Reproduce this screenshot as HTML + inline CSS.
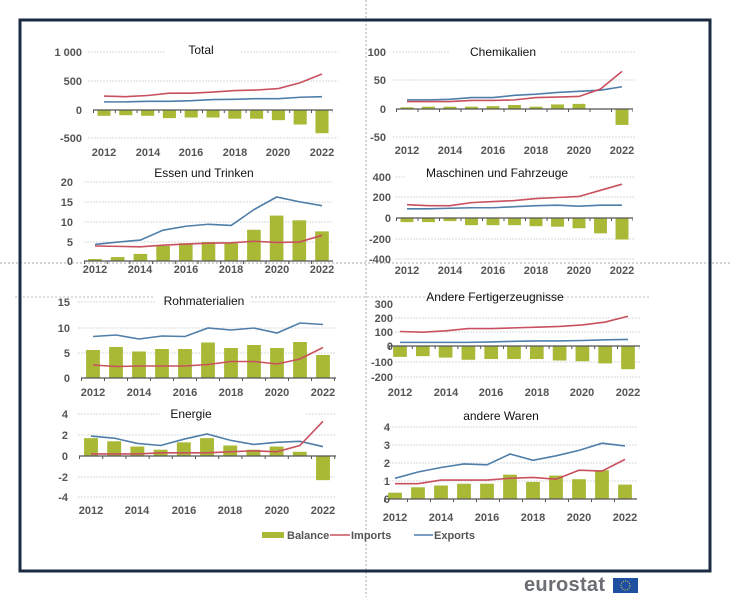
<!DOCTYPE html>
<html><head><meta charset="utf-8"><style>
html,body{margin:0;padding:0;background:#fff;}
svg{display:block;font-family:"Liberation Sans",Arial,sans-serif;}
svg *{vector-effect:non-scaling-stroke;}
.b{fill:#a9b936;}
.im{fill:none;stroke:#c9505f;stroke-width:1.6;}
.ex{fill:none;stroke:#4f7ea8;stroke-width:1.6;}
.g{stroke:#d4d8dd;stroke-width:1;stroke-dasharray:2 1;}
.ax{stroke:#555;stroke-width:1.2;}
.tk{stroke:#555;stroke-width:3;}
.yl{font-size:11px;font-weight:bold;fill:#555;text-anchor:end;}
.xl{font-size:11px;font-weight:bold;fill:#555;text-anchor:middle;}
.t{font-size:12px;fill:#111;text-anchor:middle;}
.bg{fill:#fff;}
</style></head><body>
<svg width="732" height="597" viewBox="0 0 732 597">
<!-- dotted guides -->
<line x1="366" y1="0" x2="366" y2="597" stroke="#aaa" stroke-dasharray="2 2"/>
<line x1="0" y1="263" x2="732" y2="263" stroke="#aaa" stroke-dasharray="2 2"/>
<line x1="15" y1="297" x2="650" y2="297" stroke="#bbb" stroke-dasharray="2 2"/>
<!-- frame -->
<rect x="20" y="20" width="690" height="551" fill="none" stroke="#1b2b42" stroke-width="3"/>

<!-- TOTAL -->
<line class="g" x1="88" y1="52" x2="338" y2="52"/><line class="g" x1="88" y1="81" x2="338" y2="81"/><line class="g" x1="88" y1="138" x2="338" y2="138"/>
<rect class="bg" x="165" y="42" width="75" height="16"/>
<text class="t" x="201" y="54">Total</text>
<text class="yl" x="82" y="56">1 000</text><text class="yl" x="82" y="85">500</text><text class="yl" x="82" y="114">0</text><text class="yl" x="82" y="142">-500</text>
<g transform="translate(104,110) scale(21.8,-0.058)">
<rect class="b" x="-0.3" y="-100" width="0.6" height="100"/><rect class="b" x="0.7" y="-90" width="0.6" height="90"/><rect class="b" x="1.7" y="-100" width="0.6" height="100"/><rect class="b" x="2.7" y="-140" width="0.6" height="140"/><rect class="b" x="3.7" y="-130" width="0.6" height="130"/><rect class="b" x="4.7" y="-130" width="0.6" height="130"/><rect class="b" x="5.7" y="-150" width="0.6" height="150"/><rect class="b" x="6.7" y="-150" width="0.6" height="150"/><rect class="b" x="7.7" y="-175" width="0.6" height="175"/><rect class="b" x="8.7" y="-250" width="0.6" height="250"/><rect class="b" x="9.7" y="-400" width="0.6" height="400"/>
<polyline class="ex" points="0,140 1,140 2,150 3,150 4,160 5,180 6,185 7,195 8,195 9,220 10,230"/>
<polyline class="im" points="0,240 1,230 2,250 3,290 4,290 5,310 6,335 7,345 8,370 9,470 10,620"/>
</g>
<line class="ax" x1="93" y1="110" x2="333" y2="110"/><line class="tk" x1="93" y1="111.5" x2="333" y2="111.5" stroke-dasharray="1 20.8"/>
<text class="xl" x="104" y="156">2012</text><text class="xl" x="148" y="156">2014</text><text class="xl" x="191" y="156">2016</text><text class="xl" x="235" y="156">2018</text><text class="xl" x="278" y="156">2020</text><text class="xl" x="322" y="156">2022</text>

<!-- ESSEN -->
<line class="g" x1="84" y1="182" x2="332" y2="182"/><line class="g" x1="84" y1="202" x2="332" y2="202"/><line class="g" x1="84" y1="222" x2="332" y2="222"/><line class="g" x1="84" y1="242" x2="332" y2="242"/>
<rect class="bg" x="132" y="165" width="145" height="16"/>
<text class="t" x="204" y="177">Essen und Trinken</text>
<text class="yl" x="73" y="186">20</text><text class="yl" x="73" y="206">15</text><text class="yl" x="73" y="226">10</text><text class="yl" x="73" y="246">5</text><text class="yl" x="73" y="265">0</text>
<g transform="translate(95,261) scale(22.7,-3.95)">
<rect class="b" x="-0.3" y="0" width="0.6" height="0.5"/><rect class="b" x="0.7" y="0" width="0.6" height="1"/><rect class="b" x="1.7" y="0" width="0.6" height="1.8"/><rect class="b" x="2.7" y="0" width="0.6" height="3.8"/><rect class="b" x="3.7" y="0" width="0.6" height="4.5"/><rect class="b" x="4.7" y="0" width="0.6" height="4.8"/><rect class="b" x="5.7" y="0" width="0.6" height="4.5"/><rect class="b" x="6.7" y="0" width="0.6" height="7.9"/><rect class="b" x="7.7" y="0" width="0.6" height="11.5"/><rect class="b" x="8.7" y="0" width="0.6" height="10.3"/><rect class="b" x="9.7" y="0" width="0.6" height="7.5"/>
<polyline class="ex" points="0,4.2 1,4.8 2,5.3 3,7.8 4,8.8 5,9.3 6,9 7,13 8,16.2 9,15 10,14"/>
<polyline class="im" points="0,3.8 1,3.7 2,3.6 3,4 4,4.3 5,4.5 6,4.6 7,5 8,4.7 9,4.8 10,6.5"/>
</g>
<line class="ax" x1="84" y1="261" x2="333" y2="261"/><line class="tk" x1="84" y1="262.5" x2="333" y2="262.5" stroke-dasharray="1 21.7"/>
<text class="xl" x="95" y="273">2012</text><text class="xl" x="140" y="273">2014</text><text class="xl" x="186" y="273">2016</text><text class="xl" x="231" y="273">2018</text><text class="xl" x="277" y="273">2020</text><text class="xl" x="322" y="273">2022</text>

<!-- CHEMIKALIEN -->
<line class="g" x1="393" y1="52" x2="635" y2="52"/><line class="g" x1="393" y1="80" x2="635" y2="80"/><line class="g" x1="393" y1="137" x2="635" y2="137"/>
<rect class="bg" x="450" y="42" width="110" height="16"/>
<text class="t" x="503" y="56">Chemikalien</text>
<text class="yl" x="386" y="56">100</text><text class="yl" x="386" y="84">50</text><text class="yl" x="386" y="113">0</text><text class="yl" x="386" y="141">-50</text>
<g transform="translate(407,109) scale(21.5,-0.57)">
<rect class="b" x="-0.3" y="0" width="0.6" height="3"/><rect class="b" x="0.7" y="0" width="0.6" height="4"/><rect class="b" x="1.7" y="0" width="0.6" height="4"/><rect class="b" x="2.7" y="0" width="0.6" height="4"/><rect class="b" x="3.7" y="0" width="0.6" height="5"/><rect class="b" x="4.7" y="0" width="0.6" height="7"/><rect class="b" x="5.7" y="0" width="0.6" height="4"/><rect class="b" x="6.7" y="0" width="0.6" height="8"/><rect class="b" x="7.7" y="0" width="0.6" height="9"/><rect class="b" x="8.7" y="-1" width="0.6" height="1"/><rect class="b" x="9.7" y="-28" width="0.6" height="28"/>
<polyline class="ex" points="0,16 1,16 2,17 3,20 4,20 5,24 6,26 7,29 8,31 9,33 10,39"/>
<polyline class="im" points="0,13 1,13 2,13 3,15 4,15 5,16 6,20 7,21 8,22 9,35 10,66"/>
</g>
<line class="ax" x1="396" y1="109" x2="633" y2="109"/><line class="tk" x1="396" y1="110.5" x2="633" y2="110.5" stroke-dasharray="1 20.5"/>
<text class="xl" x="407" y="154">2012</text><text class="xl" x="450" y="154">2014</text><text class="xl" x="493" y="154">2016</text><text class="xl" x="536" y="154">2018</text><text class="xl" x="579" y="154">2020</text><text class="xl" x="622" y="154">2022</text>

<!-- MASCHINEN -->
<line class="g" x1="395" y1="177" x2="635" y2="177"/><line class="g" x1="395" y1="197" x2="635" y2="197"/><line class="g" x1="395" y1="239" x2="635" y2="239"/><line class="g" x1="395" y1="259" x2="635" y2="259"/>
<rect class="bg" x="405" y="166" width="185" height="16"/>
<text class="t" x="497" y="177">Maschinen und Fahrzeuge</text>
<text class="yl" x="391" y="181">400</text><text class="yl" x="391" y="201">200</text><text class="yl" x="391" y="222">0</text><text class="yl" x="391" y="243">-200</text><text class="yl" x="391" y="263">-400</text>
<g transform="translate(407,218) scale(21.5,-0.1025)">
<rect class="b" x="-0.3" y="-40" width="0.6" height="40"/><rect class="b" x="0.7" y="-40" width="0.6" height="40"/><rect class="b" x="1.7" y="-30" width="0.6" height="30"/><rect class="b" x="2.7" y="-70" width="0.6" height="70"/><rect class="b" x="3.7" y="-70" width="0.6" height="70"/><rect class="b" x="4.7" y="-70" width="0.6" height="70"/><rect class="b" x="5.7" y="-80" width="0.6" height="80"/><rect class="b" x="6.7" y="-85" width="0.6" height="85"/><rect class="b" x="7.7" y="-100" width="0.6" height="100"/><rect class="b" x="8.7" y="-150" width="0.6" height="150"/><rect class="b" x="9.7" y="-210" width="0.6" height="210"/>
<polyline class="ex" points="0,90 1,90 2,95 3,100 4,100 5,110 6,120 7,125 8,115 9,125 10,125"/>
<polyline class="im" points="0,130 1,120 2,120 3,150 4,160 5,170 6,190 7,200 8,210 9,270 10,330"/>
</g>
<line class="ax" x1="396" y1="218" x2="633" y2="218"/><line class="tk" x1="396" y1="219.5" x2="633" y2="219.5" stroke-dasharray="1 20.5"/>
<text class="xl" x="407" y="274">2012</text><text class="xl" x="450" y="274">2014</text><text class="xl" x="493" y="274">2016</text><text class="xl" x="536" y="274">2018</text><text class="xl" x="579" y="274">2020</text><text class="xl" x="622" y="274">2022</text>

<!-- ROHMATERIALIEN -->
<line class="g" x1="78" y1="302" x2="336" y2="302"/><line class="g" x1="78" y1="328" x2="336" y2="328"/><line class="g" x1="78" y1="353" x2="336" y2="353"/>
<rect class="bg" x="155" y="292" width="95" height="16"/>
<text class="t" x="204" y="305">Rohmaterialien</text>
<text class="yl" x="70" y="306">15</text><text class="yl" x="70" y="332">10</text><text class="yl" x="70" y="357">5</text><text class="yl" x="70" y="382">0</text>
<g transform="translate(93,378) scale(23,-5)">
<rect class="b" x="-0.3" y="0" width="0.6" height="5.6"/><rect class="b" x="0.7" y="0" width="0.6" height="6.2"/><rect class="b" x="1.7" y="0" width="0.6" height="5.3"/><rect class="b" x="2.7" y="0" width="0.6" height="5.8"/><rect class="b" x="3.7" y="0" width="0.6" height="5.8"/><rect class="b" x="4.7" y="0" width="0.6" height="7.1"/><rect class="b" x="5.7" y="0" width="0.6" height="6"/><rect class="b" x="6.7" y="0" width="0.6" height="6.6"/><rect class="b" x="7.7" y="0" width="0.6" height="6"/><rect class="b" x="8.7" y="0" width="0.6" height="7.2"/><rect class="b" x="9.7" y="0" width="0.6" height="4.6"/>
<polyline class="ex" points="0,8.3 1,8.6 2,7.8 3,8.4 4,8.3 5,10 6,9.6 7,10 8,9 9,11 10,10.7"/>
<polyline class="im" points="0,2.6 1,2.3 2,2.4 3,2.4 4,2.4 5,2.7 6,3.3 7,3.3 8,2.8 9,3.8 10,6.1"/>
</g>
<line class="ax" x1="81" y1="378" x2="336" y2="378"/><line class="tk" x1="81" y1="379.5" x2="336" y2="379.5" stroke-dasharray="1 22"/>
<text class="xl" x="93" y="396">2012</text><text class="xl" x="139" y="396">2014</text><text class="xl" x="185" y="396">2016</text><text class="xl" x="231" y="396">2018</text><text class="xl" x="277" y="396">2020</text><text class="xl" x="323" y="396">2022</text>

<!-- ANDERE FERTIGERZEUGNISSE -->
<line class="g" x1="395" y1="318" x2="640" y2="318"/><line class="g" x1="395" y1="332" x2="640" y2="332"/><line class="g" x1="395" y1="362" x2="640" y2="362"/><line class="g" x1="395" y1="377" x2="640" y2="377"/>
<text class="t" x="495" y="301">Andere Fertigerzeugnisse</text>
<text class="yl" x="393" y="308">300</text><text class="yl" x="393" y="322">200</text><text class="yl" x="393" y="336">100</text><text class="yl" x="393" y="350">0</text><text class="yl" x="393" y="366">-100</text><text class="yl" x="393" y="381">-200</text>
<g transform="translate(400,346) scale(22.8,-0.145)">
<rect class="b" x="-0.3" y="-75" width="0.6" height="75"/><rect class="b" x="0.7" y="-70" width="0.6" height="70"/><rect class="b" x="1.7" y="-80" width="0.6" height="80"/><rect class="b" x="2.7" y="-95" width="0.6" height="95"/><rect class="b" x="3.7" y="-90" width="0.6" height="90"/><rect class="b" x="4.7" y="-90" width="0.6" height="90"/><rect class="b" x="5.7" y="-90" width="0.6" height="90"/><rect class="b" x="6.7" y="-100" width="0.6" height="100"/><rect class="b" x="7.7" y="-105" width="0.6" height="105"/><rect class="b" x="8.7" y="-120" width="0.6" height="120"/><rect class="b" x="9.7" y="-160" width="0.6" height="160"/>
<polyline class="ex" points="0,25 1,25 2,25 3,25 4,28 5,32 6,35 7,35 8,38 9,43 10,45"/>
<polyline class="im" points="0,100 1,95 2,105 3,120 4,120 5,125 6,130 7,135 8,145 9,165 10,205"/>
</g>
<line class="ax" x1="389" y1="346" x2="640" y2="346"/><line class="tk" x1="389" y1="347.5" x2="640" y2="347.5" stroke-dasharray="1 21.8"/>
<text class="xl" x="400" y="396">2012</text><text class="xl" x="446" y="396">2014</text><text class="xl" x="491" y="396">2016</text><text class="xl" x="537" y="396">2018</text><text class="xl" x="582" y="396">2020</text><text class="xl" x="628" y="396">2022</text>

<!-- ENERGIE -->
<line class="g" x1="78" y1="414" x2="336" y2="414"/><line class="g" x1="78" y1="435" x2="336" y2="435"/><line class="g" x1="78" y1="477" x2="336" y2="477"/><line class="g" x1="78" y1="497" x2="336" y2="497"/>
<rect class="bg" x="160" y="404" width="145" height="16"/>
<text class="t" x="191" y="418">Energie</text>
<text class="yl" x="68" y="418">4</text><text class="yl" x="68" y="439">2</text><text class="yl" x="68" y="460">0</text><text class="yl" x="68" y="481">-2</text><text class="yl" x="68" y="501">-4</text>
<g transform="translate(91,456) scale(23.2,-10.5)">
<rect class="b" x="-0.3" y="0" width="0.6" height="1.7"/><rect class="b" x="0.7" y="0" width="0.6" height="1.4"/><rect class="b" x="1.7" y="0" width="0.6" height="0.9"/><rect class="b" x="2.7" y="0" width="0.6" height="0.6"/><rect class="b" x="3.7" y="0" width="0.6" height="1.3"/><rect class="b" x="4.7" y="0" width="0.6" height="1.7"/><rect class="b" x="5.7" y="0" width="0.6" height="1"/><rect class="b" x="6.7" y="0" width="0.6" height="0.6"/><rect class="b" x="7.7" y="0" width="0.6" height="0.9"/><rect class="b" x="8.7" y="0" width="0.6" height="0.4"/><rect class="b" x="9.7" y="-2.3" width="0.6" height="2.3"/>
<polyline class="ex" points="0,1.9 1,1.7 2,1.2 3,1 4,1.6 5,2.1 6,1.5 7,1.1 8,1.3 9,1.4 10,0.9"/>
<polyline class="im" points="0,0.2 1,0.2 2,0.2 3,0.3 4,0.3 5,0.3 6,0.4 7,0.5 8,0.4 9,1 10,3.3"/>
</g>
<line class="ax" x1="79" y1="456" x2="336" y2="456"/><line class="tk" x1="79" y1="457.5" x2="336" y2="457.5" stroke-dasharray="1 22.2"/>
<text class="xl" x="91" y="514">2012</text><text class="xl" x="137" y="514">2014</text><text class="xl" x="184" y="514">2016</text><text class="xl" x="230" y="514">2018</text><text class="xl" x="277" y="514">2020</text><text class="xl" x="323" y="514">2022</text>

<!-- ANDERE WAREN -->
<line class="g" x1="383" y1="427" x2="637" y2="427"/><line class="g" x1="383" y1="445" x2="637" y2="445"/><line class="g" x1="383" y1="463" x2="637" y2="463"/><line class="g" x1="383" y1="481" x2="637" y2="481"/>
<rect class="bg" x="450" y="408" width="105" height="16"/>
<text class="t" x="501" y="420">andere Waren</text>
<text class="yl" x="390" y="431">4</text><text class="yl" x="390" y="449">3</text><text class="yl" x="390" y="467">2</text><text class="yl" x="390" y="485">1</text><text class="yl" x="390" y="503">0</text>
<g transform="translate(395,499) scale(23,-18)">
<rect class="b" x="-0.3" y="0" width="0.6" height="0.35"/><rect class="b" x="0.7" y="0" width="0.6" height="0.65"/><rect class="b" x="1.7" y="0" width="0.6" height="0.75"/><rect class="b" x="2.7" y="0" width="0.6" height="0.85"/><rect class="b" x="3.7" y="0" width="0.6" height="0.85"/><rect class="b" x="4.7" y="0" width="0.6" height="1.35"/><rect class="b" x="5.7" y="0" width="0.6" height="0.95"/><rect class="b" x="6.7" y="0" width="0.6" height="1.3"/><rect class="b" x="7.7" y="0" width="0.6" height="1.1"/><rect class="b" x="8.7" y="0" width="0.6" height="1.6"/><rect class="b" x="9.7" y="0" width="0.6" height="0.8"/>
<polyline class="ex" points="0,1.15 1,1.5 2,1.75 3,1.95 4,1.9 5,2.5 6,2.15 7,2.4 8,2.7 9,3.1 10,2.95"/>
<polyline class="im" points="0,0.85 1,0.85 2,1.05 3,1.05 4,1.05 5,1.15 6,1.2 7,1.1 8,1.6 9,1.55 10,2.2"/>
</g>
<line class="ax" x1="384" y1="499" x2="637" y2="499"/><line class="tk" x1="384" y1="500.5" x2="637" y2="500.5" stroke-dasharray="1 22"/>
<text class="xl" x="395" y="521">2012</text><text class="xl" x="441" y="521">2014</text><text class="xl" x="487" y="521">2016</text><text class="xl" x="533" y="521">2018</text><text class="xl" x="579" y="521">2020</text><text class="xl" x="625" y="521">2022</text>

<!-- LEGEND -->
<rect class="b" x="262" y="532" width="22" height="6"/>
<text x="287" y="539" style="font-size:11px;font-weight:bold;fill:#555">Balance</text>
<line x1="330" y1="535" x2="350" y2="535" stroke="#c9505f" stroke-width="1.6"/>
<text x="351" y="539" style="font-size:11px;font-weight:bold;fill:#555">Imports</text>
<line x1="414" y1="535" x2="433" y2="535" stroke="#4f7ea8" stroke-width="1.6"/>
<text x="434" y="539" style="font-size:11px;font-weight:bold;fill:#555">Exports</text>

<!-- LOGO -->
<text x="524" y="591" style="font-size:20px;font-weight:bold;fill:#6b6e72;letter-spacing:0.3px">eurostat</text>
<rect x="613" y="578" width="25" height="15" fill="#1f4fa0"/>
<circle cx="625.5" cy="585.5" r="4.5" fill="none" stroke="#e8d24a" stroke-width="1" stroke-dasharray="1 1.3"/>
</svg>
</body></html>
